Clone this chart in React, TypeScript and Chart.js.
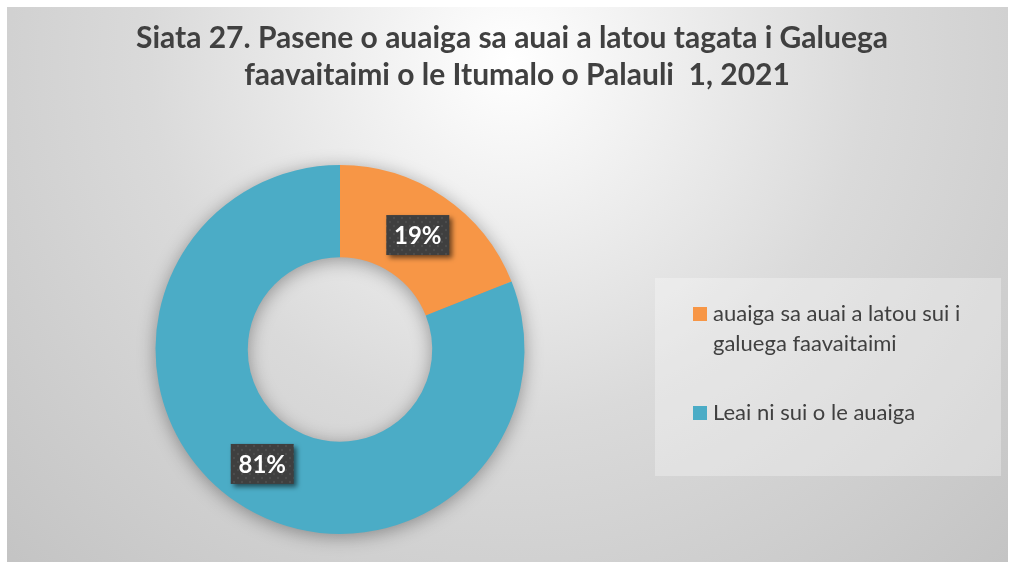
import React, { useEffect, useRef } from "react";
import { Chart, registerables } from "chart.js";

Chart.register(...registerables);

const categories = [
  "auaiga sa auai a latou sui i galuega faavaitaimi",
  "Leai ni sui o le auaiga",
];
const values = [19, 81];
const colors = ["#F79646", "#4BACC6"];
const titleLines = [
  "Siata 27. Pasene o auaiga sa auai a latou tagata i Galuega",
  "faavaitaimi o le Itumalo o Palauli  1, 2021",
];

const FONT = "Lato, 'Open Sans', sans-serif";
const TEXT = "#404040";

function wrap(ctx: CanvasRenderingContext2D, text: string, maxW: number): string[] {
  const words = text.split(" ");
  const lines: string[] = [];
  let cur = "";
  for (const w of words) {
    const t = cur ? cur + " " + w : w;
    if (ctx.measureText(t).width > maxW && cur) {
      lines.push(cur);
      cur = w;
    } else cur = t;
  }
  if (cur) lines.push(cur);
  return lines;
}

const backgroundPlugin = {
  id: "bgPlugin",
  beforeDraw(chart: any) {
    const ctx = chart.ctx as CanvasRenderingContext2D;
    ctx.save();
    ctx.fillStyle = "#ffffff";
    ctx.fillRect(0, 0, chart.width, chart.height);
    const g = ctx.createRadialGradient(510, 60, 0, 510, 60, 720);
    g.addColorStop(0, "#ffffff");
    g.addColorStop(0.5, "#dadada");
    g.addColorStop(1, "#c3c3c3");
    ctx.fillStyle = g;
    ctx.fillRect(7, 7, 1001, chart.height - 7);
    // title
    ctx.fillStyle = TEXT;
    ctx.textAlign = "center";
    ctx.textBaseline = "middle";
    ctx.font = `bold 30px ${FONT}`;
    ctx.fillText(titleLines[0], 512, 38, 752);
    ctx.fillText(titleLines[1], 517, 75, 752);
    ctx.restore();
  },
  beforeDatasetsDraw(chart: any) {
    const ctx = chart.ctx as CanvasRenderingContext2D;
    const arc = chart.getDatasetMeta(0).data[0];
    if (!arc) return;
    const { x, y, innerRadius, outerRadius } = arc.getProps(["x", "y", "innerRadius", "outerRadius"], true);
    ctx.save();
    const off = 10000;
    ctx.shadowColor = "rgba(0,0,0,0.35)";
    ctx.shadowBlur = 18;
    ctx.shadowOffsetX = off;
    ctx.shadowOffsetY = 3;
    ctx.beginPath();
    ctx.arc(x - off, y, outerRadius, 0, Math.PI * 2);
    ctx.arc(x - off, y, innerRadius, 0, Math.PI * 2, true);
    ctx.fillStyle = "#000";
    ctx.fill("evenodd");
    ctx.restore();
  },
  afterDraw(chart: any) {
    const ctx = chart.ctx as CanvasRenderingContext2D;
    const meta = chart.getDatasetMeta(0);
    const total = values.reduce((a, b) => a + b, 0);

    // pattern for data label boxes
    const pc = document.createElement("canvas");
    pc.width = 8;
    pc.height = 8;
    const pctx = pc.getContext("2d")!;
    pctx.fillStyle = "#3f3f3f";
    pctx.fillRect(0, 0, 8, 8);
    pctx.fillStyle = "#4d4d4d";
    pctx.beginPath();
    pctx.arc(2, 2, 1.2, 0, Math.PI * 2);
    pctx.fill();
    pctx.beginPath();
    pctx.arc(6, 6, 1.2, 0, Math.PI * 2);
    pctx.fill();
    const pattern = ctx.createPattern(pc, "repeat")!;

    meta.data.forEach((el: any, i: number) => {
      const p = el.getProps(["x", "y", "startAngle", "endAngle", "innerRadius", "outerRadius"], true);
      const mid = (p.startAngle + p.endAngle) / 2;
      const r = (p.innerRadius + p.outerRadius) / 2;
      const cx = p.x + Math.cos(mid) * r;
      const cy = p.y + Math.sin(mid) * r;
      const label = Math.round((values[i] / total) * 100) + "%";
      const w = 63;
      const h = 40;
      ctx.save();
      ctx.shadowColor = "rgba(0,0,0,0.55)";
      ctx.shadowBlur = 5;
      ctx.shadowOffsetX = 3;
      ctx.shadowOffsetY = 3;
      ctx.fillStyle = pattern;
      ctx.fillRect(cx - w / 2, cy - h / 2, w, h);
      ctx.restore();
      ctx.save();
      ctx.fillStyle = "#ffffff";
      ctx.font = `bold 24px ${FONT}`;
      ctx.textAlign = "center";
      ctx.textBaseline = "middle";
      ctx.fillText(label, cx, cy + 1);
      ctx.restore();
    });

    // legend
    ctx.save();
    ctx.fillStyle = "rgba(255,255,255,0.3)";
    ctx.fillRect(655, 278, 346, 198);
    ctx.font = `22px ${FONT}`;
    ctx.textBaseline = "middle";
    ctx.textAlign = "left";
    const starts = [314, 413];
    categories.forEach((c, i) => {
      const y0 = starts[i];
      ctx.fillStyle = colors[i];
      ctx.fillRect(693, y0 - 7, 14, 14);
      ctx.fillStyle = TEXT;
      const lines = wrap(ctx, c, 275);
      lines.forEach((ln, j) => ctx.fillText(ln, 713, y0 + j * 30));
    });
    ctx.restore();
  },
};

export default function App() {
  const ref = useRef<HTMLCanvasElement | null>(null);
  useEffect(() => {
    document.body.style.margin = "0";
    if (!ref.current) return;
    const chart = new Chart(ref.current, {
      type: "doughnut",
      data: {
        labels: categories,
        datasets: [
          {
            data: values,
            backgroundColor: colors,
            borderWidth: 0,
          },
        ],
      },
      options: {
        responsive: false,
        animation: false,
        cutout: "50%",
        layout: { padding: { left: 155.5, right: 484.5, top: 165, bottom: 28 } },
        plugins: {
          legend: { display: false },
          title: { display: false },
          tooltip: { enabled: false },
        },
      },
      plugins: [backgroundPlugin],
    });
    return () => chart.destroy();
  }, []);
  return (
    <div style={{ width: 1009, height: 562 }}>
      <canvas ref={ref} width={1009} height={562} style={{ display: "block" }} />
    </div>
  );
}
